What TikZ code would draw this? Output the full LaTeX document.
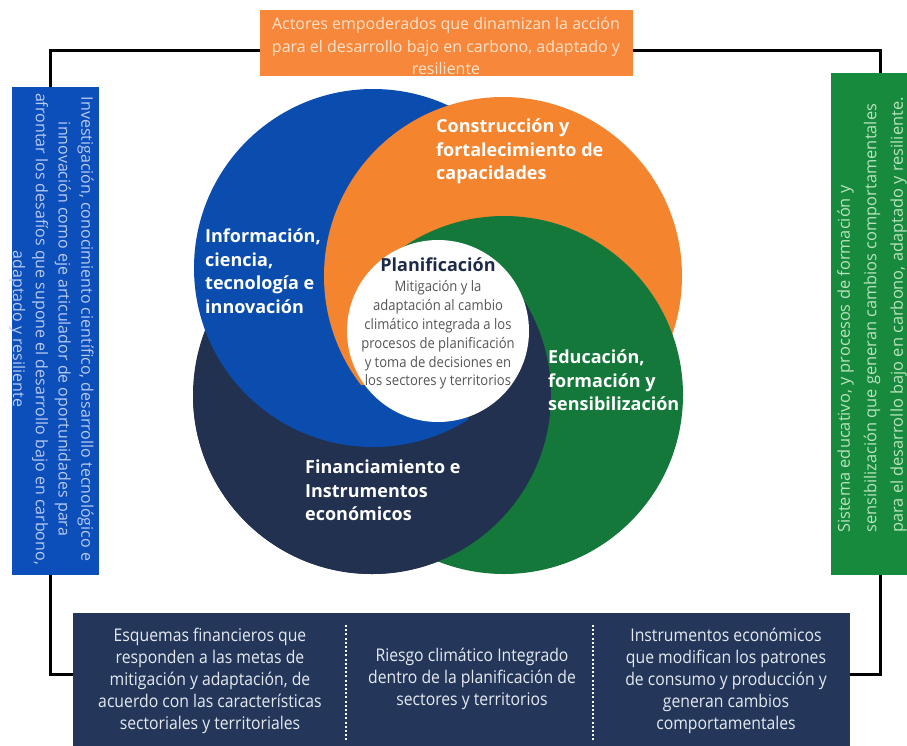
\documentclass[tikz,border=0pt]{standalone}
\usepackage{fontspec}
\setmainfont{Open Sans}
\newfontfamily\condfont[FakeStretch=0.9]{Open Sans}
\definecolor{cblue}{HTML}{0B4DAE}
\definecolor{corange}{HTML}{F5842F}
\definecolor{cgreen}{HTML}{13783A}
\definecolor{cnavy}{HTML}{21314F}
\definecolor{bannerorange}{HTML}{F7873A}
\definecolor{bannertext}{HTML}{FCE2CC}
\definecolor{boxblue}{HTML}{0C4EBA}
\definecolor{boxbluetext}{HTML}{B8CBF2}
\definecolor{boxgreen}{HTML}{178A3D}
\definecolor{boxgreentext}{HTML}{B9E2BE}
\definecolor{boxnavy}{HTML}{24375A}
\definecolor{boxnavytext}{HTML}{E6EAF0}
\definecolor{titledark}{HTML}{1E2B48}
\definecolor{bodygray}{HTML}{555555}
\begin{document}
\begin{tikzpicture}[x=1pt,y=-1pt,
  framebox/.style={inner sep=0pt, outer sep=0pt, anchor=north west},
  frameline/.style={line width=3pt, draw=black},
  lbl/.style={text=white, inner sep=0pt, font={\fontsize{18}{23.5}\selectfont\bfseries}, align=left, anchor=north west},
  bottxt/.style={text=boxnavytext, inner sep=0pt, font={\condfont\fontsize{17.5}{22}\selectfont}, align=center, anchor=north},
  divider/.style={draw=white, line width=2pt, dash pattern=on 2pt off 2.2pt}]
\useasboundingbox (0,0) rectangle (907,745);
\fill[white] (0,0) rectangle (907,745);

% frame
\coordinate (fTL) at (50,50);
\coordinate (fTR) at (880,50);
\coordinate (fBR) at (880,674);
\coordinate (fBL) at (50,674);
\draw[frameline] (fTL) -- (fTR) -- (fBR) -- (fBL) -- cycle;

% side and top boxes
\node[framebox, fill=bannerorange, minimum width=373pt, minimum height=66pt] (banner) at (260,10) {};
\node[text=bannertext, font={\fontsize{16}{22.5}\selectfont}, align=center, anchor=north, inner sep=0pt] (bannertxt) at (446,17.5)
  {Actores empoderados que dinamizan la acción\\para el desarrollo bajo en carbono, adaptado y\\resiliente};

\node[framebox, fill=boxblue, minimum width=87pt, minimum height=488pt] (leftbox) at (12,87) {};
\node[rotate=-90, text=boxbluetext, font={\fontsize{16}{22.8}\selectfont}, align=center, inner sep=0pt] (lefttxt) at (51.5,329)
  {Investigación, conocimiento científico, desarrollo tecnológico e\\innovación como eje articulador de oportunidades para\\afrontar los desafíos que supone el desarrollo bajo en carbono,\\adaptado y resiliente};

\node[framebox, fill=boxgreen, minimum width=80pt, minimum height=502pt] (rightbox) at (831,73) {};
\node[rotate=90, anchor=west, text=boxgreentext, font={\fontsize{16.4}{26.5}\selectfont}, align=left, inner sep=0pt] (righttxt) at (872,533)
  {Sistema educativo, y procesos de formación y\\sensibilización que generan cambios comportamentales\\para el desarrollo bajo en carbono, adaptado y resiliente.};

\node[framebox, fill=boxnavy, minimum width=777pt, minimum height=140pt] (botbox) at (73,613) {};
\coordinate (d1t) at (346,625);
\coordinate (d1b) at (346,740);
\coordinate (d2t) at (593,625);
\coordinate (d2b) at (593,740);
\draw[divider] (d1t) -- (d1b);
\draw[divider] (d2t) -- (d2b);
\node[bottxt] (bot1) at (210,628) {Esquemas financieros que\\responden a las metas de\\mitigación y adaptación, de\\acuerdo con las características\\sectoriales y territoriales};
\node[bottxt] (bot2) at (472,648) {Riesgo climático Integrado\\dentro de la planificación de\\sectores y territorios};
\node[bottxt] (bot3) at (726,628) {Instrumentos económicos\\que modifican los patrones\\de consumo y producción y\\generan cambios\\comportamentales};

% circles
\coordinate (cB) at (373,268);
\coordinate (cO) at (503,276);
\coordinate (cG) at (504,395);
\coordinate (cN) at (372,395);
\coordinate (cW) at (438,331);
\fill[cnavy] (cN) circle (179pt);
\fill[cblue] (cB) circle (179pt);
\node[lbl] (lblB) at (205,229) {Información,\\ciencia,\\tecnología e\\innovación};
\fill[corange] (cO) circle (179pt);
\node[lbl] (lblO) at (436,119) {Construcción y\\fortalecimiento de\\capacidades};
\fill[cgreen] (cG) circle (179pt);
% left of the centre: orange over blue over green
\begin{scope}
  \clip (322,280) rectangle (400,385);
  \fill[cblue] (cB) circle (179pt);
  \fill[corange] (cO) circle (179pt);
\end{scope}
% lower right: navy over green and orange
\begin{scope}
  \clip (150,385) rectangle (620,620) (440,300) rectangle (620,385);
  \fill[cnavy] (cN) circle (179pt);
\end{scope}
% bottom: blue over all
\begin{scope}
  \clip (150,385) rectangle (468,620);
  \fill[cblue] (cB) circle (179pt);
\end{scope}
\node[lbl] (lblG) at (548,350) {Educación,\\formación y\\sensibilización};
\node[lbl] (lblN) at (305,460) {Financiamiento e\\Instrumentos\\económicos};
\fill[white] (cW) circle (91pt);
\node[font={\fontsize{18}{20}\selectfont\bfseries}, text=titledark, anchor=north, inner sep=0pt] (ptitle) at (438,258) {Planificación};
\node[font={\condfont\fontsize{14.5}{18.8}\selectfont}, text=bodygray, align=center, anchor=north, inner sep=0pt] (pbody) at (438,280.5)
  {Mitigación y la\\adaptación al cambio\\climático integrada a los\\procesos de planificación\\y toma de decisiones en\\los sectores y territorios};
\end{tikzpicture}
\end{document}
